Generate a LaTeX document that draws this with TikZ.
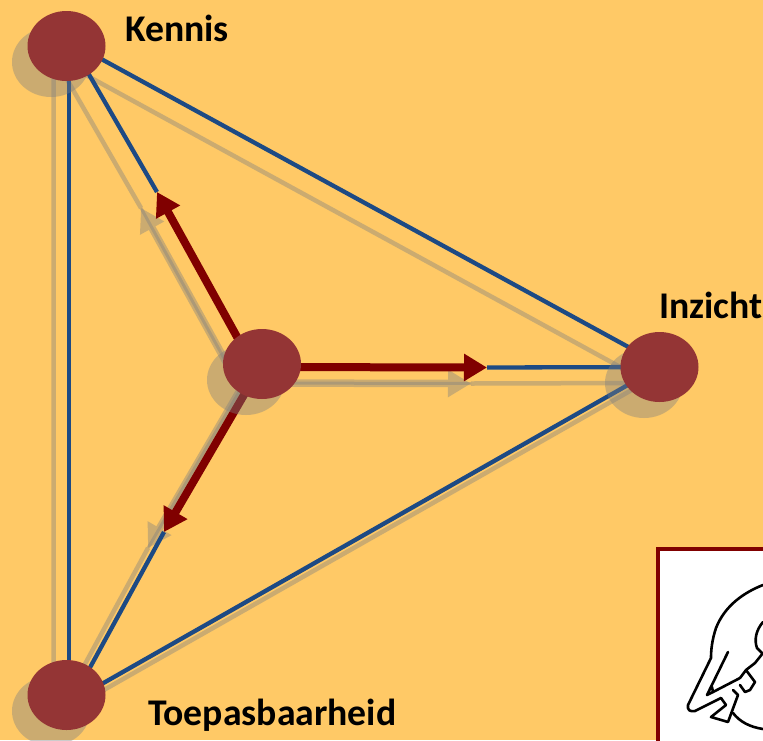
\documentclass[tikz,border=0pt]{standalone}
\usepackage{fontspec}
\setmainfont{Carlito}
\usetikzlibrary{arrows.meta,shapes.geometric}
\definecolor{bg}{HTML}{FFC966}
\definecolor{ballc}{HTML}{943535}
\definecolor{bluec}{HTML}{1D4A84}
\definecolor{redc}{HTML}{800000}
\definecolor{shadec}{HTML}{7F7F7F}
\pgfdeclarelayer{lines}
\pgfdeclarelayer{shades}
\pgfsetlayers{lines,shades,main}
\tikzset{
 ball/.style={ellipse,fill=ballc,minimum width=78pt,minimum height=70pt,inner sep=0pt},
 shadeball/.style={ellipse,fill=shadec,fill opacity=.4,minimum width=78pt,minimum height=70pt,inner sep=0pt},
 blueline/.style={draw=bluec,line width=4.3pt},
 shadeline/.style={draw=shadec,line width=4.5pt},
 redarrow/.style={draw=redc,line width=8pt,-{Triangle[length=23pt,width=26pt]}},
 shadearrow/.style={draw=shadec,line width=7.5pt,-{Triangle[length=23pt,width=26pt]}},
 shadegroup/.style={transparency group,opacity=.4},
 lbl/.style={font=\bfseries\fontsize{37.7}{42}\selectfont,text=black,inner sep=0pt,anchor=base west},
 ink/.style={draw=black,line width=2.6pt,line cap=round,line join=round}
}
\begin{document}
\begin{tikzpicture}[x=1pt,y=-1pt]
\useasboundingbox (0,0) rectangle (763,740);
\node[ball] (k) at (66.5,46) {};
\node[ball] (i) at (659.5,367) {};
\node[ball] (t) at (66.5,695) {};
\node[ball] (c) at (262,364) {};
\begin{pgfonlayer}{shades}
\node[shadeball] (ks) at (51,62) {};
\node[shadeball] (is) at (644,383) {};
\node[shadeball] (ts) at (51,711) {};
\node[shadeball] (cs) at (246,380) {};
\end{pgfonlayer}
\coordinate (tipk) at (157,192);
\coordinate (tipi) at (487,367.5);
\coordinate (tipt) at (164,532);
\coordinate (stipk) at (141,208);
\coordinate (stipi) at (471,383.5);
\coordinate (stipt) at (148,548);
\begin{pgfonlayer}{lines}
\fill[bg] (0,0) rectangle (763,740);
\begin{scope}[shadegroup]
\draw[shadeline] ([xshift=2.5pt]ks.center) -- ([xshift=2.5pt]ts.center);
\draw[shadeline] ([yshift=6pt]ks.center) -- ([yshift=3pt]is.center);
\draw[shadeline] (is.center) -- ([yshift=-9pt]ts.center);
\end{scope}
\draw[shadeline,opacity=.4] ([xshift=6pt]ks.center) -- (stipk);
\draw[shadeline,opacity=.4] (is.center) -- (stipi);
\draw[shadeline,opacity=.4] ([xshift=8.5pt]ts.center) -- (stipt);
\begin{scope}[shadegroup]
\draw[shadearrow] ([xshift=-10pt]cs.center) -- (stipk);
\end{scope}
\begin{scope}[shadegroup]
\draw[shadearrow] ([yshift=-3pt]cs.center) -- (stipi);
\end{scope}
\begin{scope}[shadegroup]
\draw[shadearrow] (cs.center) -- (stipt);
\end{scope}
\draw[shadeline,opacity=.4,line width=3pt] ([xshift=-10pt]cs.center) -- (stipk);
\draw[shadeline,opacity=.4,line width=3pt] ([yshift=-3pt]cs.center) -- (stipi);
\draw[shadeline,opacity=.4,line width=3pt] (cs.center) -- (stipt);
\draw[blueline] ([xshift=2.5pt]k.center) -- ([xshift=2.5pt]t.center);
\draw[blueline] ([yshift=6pt]k.center) -- ([yshift=3pt]i.center);
\draw[blueline] (i.center) -- ([yshift=-9pt]t.center);
\draw[blueline] ([xshift=6pt]k.center) -- (tipk);
\draw[blueline] (i.center) -- (tipi);
\draw[blueline] ([xshift=8.5pt]t.center) -- (tipt);
\draw[redarrow] ([xshift=-10pt]c.center) -- (tipk);
\draw[redarrow] ([yshift=-3pt]c.center) -- (tipi);
\draw[redarrow] (c.center) -- (tipt);
\end{pgfonlayer}
\node[lbl] (lk) at (125,41) {Kennis};
\node[lbl] (li) at (659,318) {Inzicht};
\node[lbl] (lt) at (148,725) {Toepasbaarheid};
\node[draw=redc,fill=white,line width=4pt,outer sep=0pt,minimum width=160pt,minimum height=250pt,anchor=north west,inner sep=0pt] (box) at (658,549) {};
\begin{scope}
\clip (660,551) rectangle (763,740);
\draw[ink] (763,585) .. controls (745,592) and (725,605) .. (716,628) .. controls (712,640) and (711,650) .. (711,658) -- (688,705) .. controls (687,710) and (690,712) .. (695,711) -- (721,698);
\draw[ink] (728,652) -- (707,695) -- (713,692) -- (740,678);
\draw[ink] (713,692) -- (712,687);
\draw[ink] (740,678) -- (746,670) -- (755,663) -- (763,653);
\draw[ink] (763,622) .. controls (756,630) and (754,640) .. (757,648) -- (763,654);
\draw[ink] (746,670) -- (752,678) -- (755,682) -- (750,690) -- (745,692) -- (740,685);
\draw[ink] (721,698) -- (726,705) -- (711,717) -- (728,722) -- (738,695) -- (733,690);
\draw[ink] (733,713) .. controls (740,722) and (750,727) .. (763,729);
\end{scope}
\end{tikzpicture}
\end{document}
